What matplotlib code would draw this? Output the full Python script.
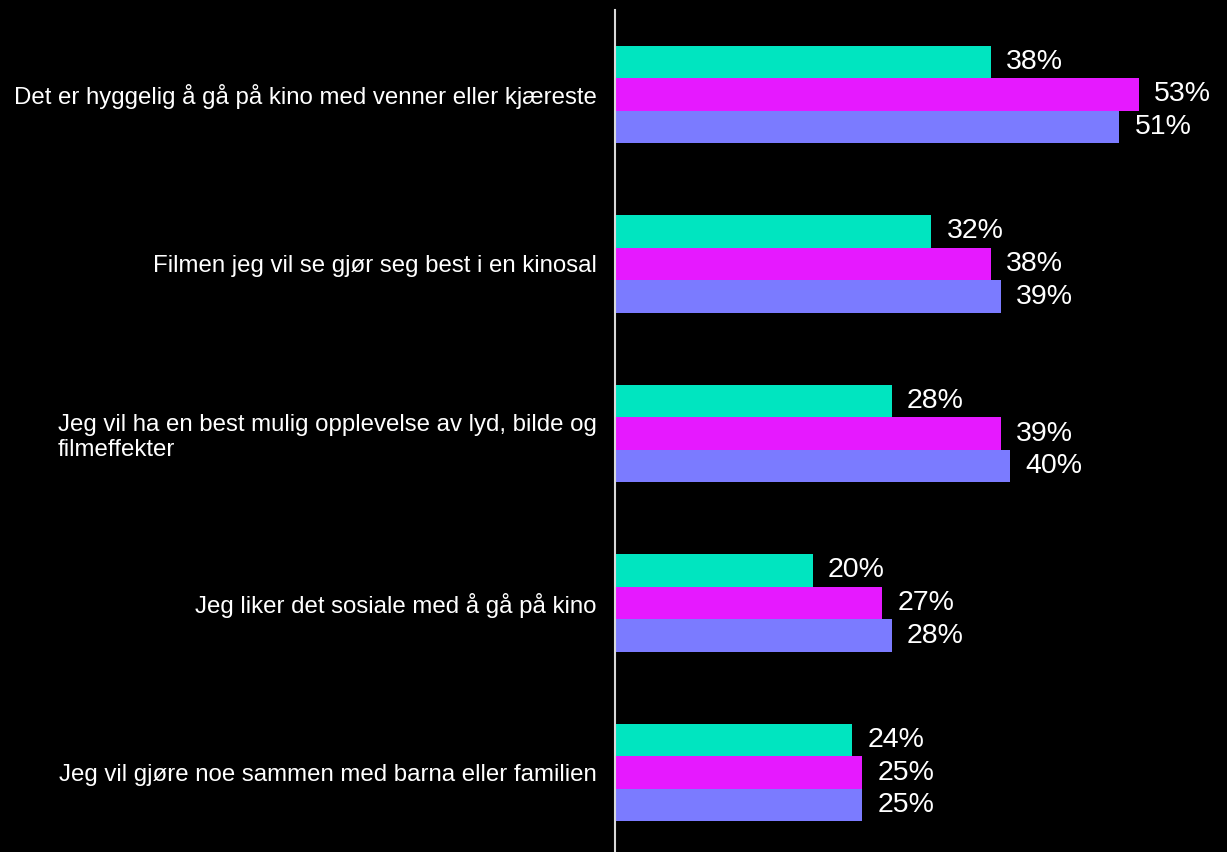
import numpy as np
import matplotlib.pyplot as plt

plt.rcParams['font.family'] = ['Liberation Sans', 'DejaVu Sans']

categories = [
    "Det er hyggelig å gå på kino med venner eller kjæreste",
    "Filmen jeg vil se gjør seg best i en kinosal",
    "Jeg vil ha en best mulig opplevelse av lyd, bilde og\nfilmeffekter",
    "Jeg liker det sosiale med å gå på kino",
    "Jeg vil gjøre noe sammen med barna eller familien",
]
s1 = [38, 32, 28, 20, 24]
s2 = [53, 38, 39, 27, 25]
s3 = [51, 39, 40, 28, 25]

colors = ["#00E5C0", "#E619FF", "#7B7BFF"]

fig = plt.figure(figsize=(12.27, 8.52), dpi=100, facecolor="black")
ax = fig.add_axes([615 / 1227, 0, 612 / 1227, 842 / 852])
ax.set_facecolor("black")

y = np.arange(len(categories))
h = 0.192
for i, (vals, col) in enumerate(zip([s1, s2, s3], colors)):
    pos = y + (i - 1) * h
    ax.barh(pos, vals, height=h, color=col, edgecolor="none")
    for p, v in zip(pos, vals):
        ax.annotate(f"{v}%", (v, p), xytext=(11, 0), textcoords="offset points",
                    ha="left", va="center", color="white", fontsize=20.5)

ax.set_xlim(0, 61.9)
ax.set_ylim(4.469, -0.4985)

for s in ["top", "right", "bottom"]:
    ax.spines[s].set_visible(False)
ax.spines["left"].set_color("#D9D9D9")
ax.spines["left"].set_linewidth(1.5)
ax.set_xticks([])
ax.set_yticks(y)
ax.set_yticklabels(categories, color="white", fontsize=17.3, multialignment="left")
ax.tick_params(axis="y", length=0, pad=13)

fig.savefig("out.png", dpi=100, facecolor="black")
